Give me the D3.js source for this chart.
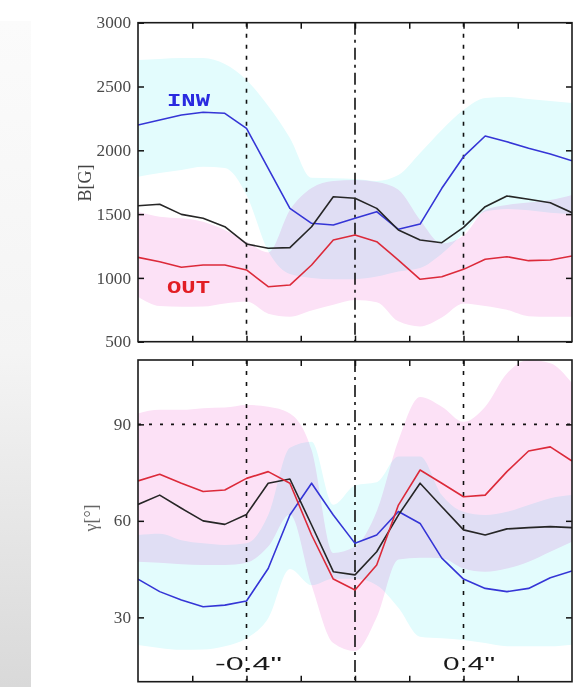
<!DOCTYPE html>
<html>
<head>
<meta charset="utf-8">
<script src="https://cdn.jsdelivr.net/npm/d3@7"></script>
<style>
  html, body { margin: 0; padding: 0; background: #fff; }
  svg { display: block; }
</style>
</head>
<body>
<div id="graf"></div>
<script>
// posiciones en arcsec
const xPos = [-0.8, -0.72, -0.64, -0.56, -0.48, -0.4, -0.32, -0.24, -0.16, -0.08, 0,
  0.08, 0.16, 0.24, 0.32, 0.4, 0.48, 0.56, 0.64, 0.72, 0.8]
const xTicks = [-0.6, -0.4, -0.2, 0, 0.2, 0.4, 0.6]
const xMarks = [-0.4, 0.4]

// panel B [G]
const bTicks = [500, 1000, 1500, 2000, 2500, 3000]
const bInw = [2198, 2238, 2277, 2298, 2290, 2172, 1859, 1545, 1428, 1415, 1467, 1519, 1381, 1422, 1702, 1950, 2112, 2067, 2016, 1971, 1918]
const bAll = [1566, 1577, 1498, 1467, 1401, 1266, 1232, 1237, 1401, 1636, 1624, 1545, 1375, 1297, 1276, 1396, 1558, 1642, 1616, 1589, 1511]
const bOut = [1161, 1127, 1083, 1101, 1101, 1062, 931, 944, 1101, 1297, 1336, 1284, 1140, 989, 1009, 1067, 1146, 1166, 1135, 1140, 1172]
const bInwHi = [2708, 2716, 2723, 2723, 2676, 2551, 2347, 2097, 1784, 1780, 1775, 1760, 1806, 1978, 2159, 2316, 2410, 2418, 2402, 2386, 2371]
const bInwLo = [1793, 1822, 1846, 1872, 1861, 1650, 1210, 1030, 1000, 990, 990, 1010, 1050, 1077, 1190, 1350, 1520, 1540, 1530, 1510, 1500]
const bOutHi = [1519, 1480, 1467, 1440, 1375, 1284, 1200, 1532, 1704, 1760, 1767, 1751, 1690, 1453, 1270, 1330, 1532, 1571, 1590, 1610, 1650]
const bOutLo = [853, 780, 774, 776, 800, 815, 720, 696, 745, 790, 827, 810, 660, 620, 690, 800, 780, 750, 700, 696, 696]

// panel gamma [deg]
const gTicks = [30, 60, 90]
const gInw = [41.9, 38.0, 35.4, 33.3, 33.8, 35.1, 45.2, 61.8, 71.7, 61.8, 53.0, 55.6, 62.9, 59.2, 48.4, 41.9, 39.0, 38.0, 39.0, 42.3, 44.4]
const gAll = [65.1, 68.0, 63.9, 60.0, 58.9, 62.0, 71.7, 73.0, 58.7, 44.2, 43.2, 50.4, 61.8, 71.7, 64.4, 57.2, 55.6, 57.5, 57.9, 58.2, 57.9]
const gOut = [72.4, 74.5, 71.7, 69.1, 69.6, 73.2, 75.3, 71.7, 55.6, 41.9, 38.5, 46.3, 64.9, 75.8, 71.7, 67.5, 68.0, 75.3, 81.7, 83.0, 78.6]
const gInwHi = [55.6, 56, 54, 53, 52.5, 53, 61.8, 82.7, 84.6, 65, 71, 72, 80, 80, 68, 62.8, 61.8, 62.8, 64.9, 67, 68]
const gInwLo = [21.4, 20.5, 19.9, 20, 21, 23.5, 29.7, 45, 40, 42, 42, 40, 33, 24, 23.5, 23, 22, 21, 21, 21, 21.5]
const gOutHi = [93.4, 94.5, 94.5, 95, 95.2, 96, 95.5, 93.4, 82, 50, 52, 63, 85, 98.5, 95.5, 90.8, 95.5, 105.8, 110, 109, 102.8]
const gOutLo = [47.3, 47, 46.5, 46.3, 46.3, 47, 52, 62, 40, 22, 19.5, 30, 48, 48.5, 48.4, 45.2, 44.2, 45.2, 47.3, 50.4, 53.5]

const anchoTotal = 585
const altoTotal = 687

const svg = d3.select('#graf')
  .append('svg')
  .attr('width', anchoTotal)
  .attr('height', altoTotal)

// franja gris de la izquierda
const defs = svg.append('defs')
const grad = defs.append('linearGradient')
  .attr('id', 'gris')
  .attr('x1', 0).attr('y1', 0).attr('x2', 0).attr('y2', 1)
grad.append('stop').attr('offset', 0).attr('stop-color', '#fbfbfb')
grad.append('stop').attr('offset', 0.5).attr('stop-color', '#f4f4f4')
grad.append('stop').attr('offset', 1).attr('stop-color', '#d9d9d9')

svg.append('rect')
  .attr('x', 0).attr('y', 21)
  .attr('width', 31).attr('height', altoTotal - 21)
  .attr('fill', 'url(#gris)')

const x = d3.scaleLinear().domain([-0.8, 0.8]).range([138, 572])

function panel(id, yTop, yBottom, domain, ticks, lines, bands) {
  const y = d3.scaleLinear().domain(domain).range([yBottom, yTop])
  const g = svg.append('g')

  defs.append('clipPath').attr('id', id)
    .append('rect')
    .attr('x', x.range()[0]).attr('y', yTop)
    .attr('width', x.range()[1] - x.range()[0])
    .attr('height', yBottom - yTop)

  const capa = g.append('g')
    .attr('clip-path', `url(#${id})`)
    .style('isolation', 'isolate')

  bands.forEach(b => {
    const area = d3.area()
      .x((d, i) => x(xPos[i]))
      .y0((d, i) => y(b.lo[i]))
      .y1((d, i) => y(b.hi[i]))
      .curve(d3.curveMonotoneX)
    capa.append('path')
      .datum(b.hi)
      .attr('d', area)
      .attr('fill', b.color)
      .style('mix-blend-mode', 'multiply')
  })

  // lineas de referencia
  xMarks.forEach(v => {
    g.append('line')
      .attr('x1', x(v)).attr('x2', x(v))
      .attr('y1', yTop).attr('y2', yBottom)
      .attr('stroke', '#111')
      .attr('stroke-width', 1.6)
      .attr('stroke-dasharray', '4,7')
  })
  g.append('line')
    .attr('x1', x(0)).attr('x2', x(0))
    .attr('y1', yTop).attr('y2', yBottom)
    .attr('stroke', '#111')
    .attr('stroke-width', 1.6)
    .attr('stroke-dasharray', '12,5,3,5')

  const line = d3.line()
    .x((d, i) => x(xPos[i]))
    .y(d => y(d))

  const trazos = g.append('g').attr('clip-path', `url(#${id})`)
  lines.forEach(l => {
    trazos.append('path')
      .datum(l.values)
      .attr('d', line)
      .attr('fill', 'none')
      .attr('stroke', l.color)
      .attr('stroke-width', 1.6)
      .attr('stroke-linejoin', 'round')
  })

  // ejes con ticks hacia dentro
  const left = g.append('g')
    .attr('transform', `translate(${x.range()[0]}, 0)`)
    .call(d3.axisLeft(y).tickValues(ticks).tickSize(-6).tickPadding(7).tickFormat(d3.format('d')))
  left.selectAll('text')
    .attr('font-family', '"Liberation Serif", serif')
    .attr('font-size', 16)
    .attr('fill', '#4a4a4a')
    .attr('textLength', d => String(d).length * 8.6)
    .attr('lengthAdjust', 'spacingAndGlyphs')

  g.append('g')
    .attr('transform', `translate(${x.range()[1]}, 0)`)
    .call(d3.axisRight(y).tickValues(ticks).tickSize(-6).tickFormat(''))

  g.append('g')
    .attr('transform', `translate(0, ${yTop})`)
    .call(d3.axisTop(x).tickValues(xTicks).tickSize(-6).tickFormat(''))

  g.append('g')
    .attr('transform', `translate(0, ${yBottom})`)
    .call(d3.axisBottom(x).tickValues(xTicks).tickSize(-6).tickFormat(''))

  g.selectAll('.domain').remove()
  g.selectAll('.tick line').attr('stroke', '#111').attr('stroke-width', 1.5)

  g.append('rect')
    .attr('x', x.range()[0]).attr('y', yTop)
    .attr('width', x.range()[1] - x.range()[0])
    .attr('height', yBottom - yTop)
    .attr('fill', 'none')
    .attr('stroke', '#1a1a1a')
    .attr('stroke-width', 1.6)

  return { g, y }
}

const cyan = '#e3fcfd'
const rosa = '#fce1f6'
const azul = '#3535d6'
const rojo = '#dc2a3a'
const negro = '#262626'

const panelB = panel('clipB', 22.7, 341.7, [500, 3000], bTicks,
  [
    { values: bInw, color: azul },
    { values: bAll, color: negro },
    { values: bOut, color: rojo },
  ],
  [
    { hi: bInwHi, lo: bInwLo, color: cyan },
    { hi: bOutHi, lo: bOutLo, color: rosa },
  ])

const panelG = panel('clipG', 360, 681.7, [10, 110], gTicks,
  [
    { values: gInw, color: azul },
    { values: gAll, color: negro },
    { values: gOut, color: rojo },
  ],
  [
    { hi: gInwHi, lo: gInwLo, color: cyan },
    { hi: gOutHi, lo: gOutLo, color: rosa },
  ])

// linea horizontal en 90 grados
panelG.g.append('line')
  .attr('x1', x.range()[0]).attr('x2', x.range()[1])
  .attr('y1', panelG.y(90)).attr('y2', panelG.y(90))
  .attr('stroke', '#111')
  .attr('stroke-width', 1.6)
  .attr('stroke-dasharray', '3,8')

// etiquetas INW / OUT
panelB.g.append('text')
  .attr('x', 167).attr('y', 106)
  .attr('font-family', '"Liberation Mono", monospace')
  .attr('font-weight', 'bold')
  .attr('font-size', 19)
  .attr('fill', '#2a2ae0')
  .attr('textLength', 43)
  .attr('lengthAdjust', 'spacingAndGlyphs')
  .text('INW')

panelB.g.append('text')
  .attr('x', 167).attr('y', 293)
  .attr('font-family', '"Liberation Mono", monospace')
  .attr('font-weight', 'bold')
  .attr('font-size', 19)
  .attr('fill', '#e21e24')
  .attr('textLength', 43)
  .attr('lengthAdjust', 'spacingAndGlyphs')
  .text('OUT')

// etiquetas de posicion
panelG.g.append('text')
  .attr('x', 215).attr('y', 670)
  .attr('font-family', '"Liberation Sans", sans-serif')
  .attr('font-size', 18)
  .attr('fill', '#1a1a1a')
  .attr('textLength', 67)
  .attr('lengthAdjust', 'spacingAndGlyphs')
  .text('-0.4"')

panelG.g.append('text')
  .attr('x', 443).attr('y', 670)
  .attr('font-family', '"Liberation Sans", sans-serif')
  .attr('font-size', 18)
  .attr('fill', '#1a1a1a')
  .attr('textLength', 52)
  .attr('lengthAdjust', 'spacingAndGlyphs')
  .text('0.4"')

// titulos de ejes
svg.append('text')
  .attr('transform', 'translate(91, 183) rotate(-90)')
  .attr('text-anchor', 'middle')
  .attr('font-family', '"Liberation Serif", serif')
  .attr('font-size', 18)
  .attr('fill', '#444')
  .text('B[G]')

svg.append('text')
  .attr('transform', 'translate(97, 518) rotate(-90)')
  .attr('text-anchor', 'middle')
  .attr('font-family', '"Liberation Serif", serif')
  .attr('font-size', 18)
  .attr('fill', '#666')
  .text('γ[°]')
</script>
</body>
</html>
